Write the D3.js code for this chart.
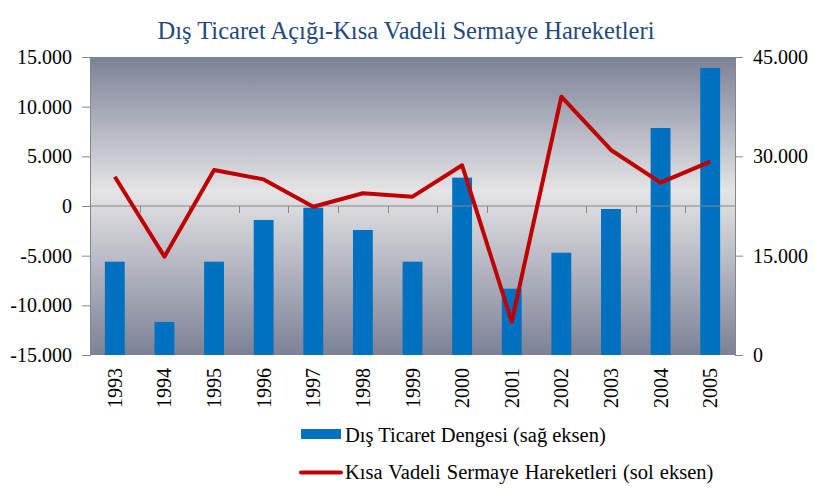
<!DOCTYPE html>
<html><head><meta charset="utf-8">
<script src="https://cdn.jsdelivr.net/npm/d3@7"></script>
<style>body{margin:0;background:#fff}svg{display:block}svg text{font-family:"Liberation Serif","Times New Roman",serif !important}</style>
</head><body><svg id="c" width="814" height="497"></svg>
<script>
const years = ["1993","1994","1995","1996","1997","1998","1999","2000","2001","2002","2003","2004","2005"];
const tradeBalance = [14090, 4980, 14090, 20390, 22240, 18880, 14090, 26780, 10010, 15450, 22050, 34280, 43340];
const shortTermCapital = [2950, -5100, 3620, 2680, -70, 1280, 940, 4100, -11650, 11000, 5640, 2350, 4460];
const leftTicks = [-15000, -10000, -5000, 0, 5000, 10000, 15000];
const rightTicks = [0, 15000, 30000, 45000];
const title = "Dış Ticaret Açığı-Kısa Vadeli Sermaye Hareketleri";
const legendBar = "Dış Ticaret Dengesi (sağ eksen)";
const legendLine = "Kısa Vadeli Sermaye Hareketleri (sol eksen)";

const FONT = '"Liberation Serif","Times New Roman",serif';
const svg = d3.select("#c");
const L = 90, R = 735, T = 57, B = 355;
const loc = d3.formatLocale({decimal: ",", thousands: ".", grouping: [3], currency: ["", ""], minus: "-"});
const fmt = loc.format(",.0f");

const x = d3.scaleBand().domain(years).range([L, R]);
const yL = d3.scaleLinear().domain([-15000, 15000]).range([B, T]);
const yR = d3.scaleLinear().domain([0, 45000]).range([B, T]);

const defs = svg.append("defs");
const g = defs.append("linearGradient").attr("id", "bg").attr("x1", 0).attr("y1", 0).attr("x2", 0).attr("y2", 1);
g.append("stop").attr("offset", "0%").attr("stop-color", "#7c8196");
g.append("stop").attr("offset", "45%").attr("stop-color", "#e4e4e6");
g.append("stop").attr("offset", "100%").attr("stop-color", "#7c8196");
svg.append("rect").attr("x", L).attr("y", T).attr("width", R - L).attr("height", B - T).attr("fill", "url(#bg)");

svg.append("text").attr("x", 406).attr("y", 39).attr("text-anchor", "middle")
  .attr("font-size", 24.5).attr("fill", "#1f497d").style("font-family", FONT).text(title);

// bars
const bw = x.bandwidth() * 0.4;
svg.append("g").selectAll("rect").data(years).join("rect")
  .attr("x", (d) => x(d) + x.bandwidth() / 2 - bw / 2)
  .attr("width", bw)
  .attr("y", (d, i) => yR(tradeBalance[i]))
  .attr("height", (d, i) => yR(0) - yR(tradeBalance[i]))
  .attr("fill", "#0070c0");

// zero line + category ticks
const axisColor = "#868686";
svg.append("line").attr("x1", L).attr("x2", R).attr("y1", yL(0)).attr("y2", yL(0)).attr("stroke", axisColor).attr("stroke-width", 1);
svg.append("g").selectAll("line").data(years.slice(1)).join("line")
  .attr("x1", (d) => Math.round(x(d)) + 0.5).attr("x2", (d) => Math.round(x(d)) + 0.5)
  .attr("y1", yL(0)).attr("y2", yL(0) + 7).attr("stroke", axisColor);

// left axis
const la = svg.append("g").attr("transform", `translate(${L},0)`)
  .call(d3.axisLeft(yL).tickValues(leftTicks).tickFormat(fmt).tickSize(8).tickPadding(10))
  .attr("font-family", null).attr("font-size", null);
la.select(".domain").attr("stroke", axisColor);
la.selectAll(".tick line").attr("stroke", axisColor);
la.selectAll("text").attr("font-size", 20).attr("fill", "#000").style("font-family", FONT);

const ra = svg.append("g").attr("transform", `translate(${R},0)`)
  .call(d3.axisRight(yR).tickValues(rightTicks).tickFormat(fmt).tickSize(8).tickPadding(10))
  .attr("font-family", null).attr("font-size", null);
ra.select(".domain").attr("stroke", axisColor);
ra.selectAll(".tick line").attr("stroke", axisColor);
ra.selectAll("text").attr("font-size", 20).attr("fill", "#000").style("font-family", FONT);

// bottom year labels
svg.append("g").selectAll("text").data(years).join("text")
  .attr("transform", (d) => `translate(${x(d) + x.bandwidth() / 2},368) rotate(-90)`)
  .attr("text-anchor", "end").attr("dy", "0.35em")
  .attr("font-size", 20).attr("fill", "#000").style("font-family", FONT).text((d) => d);

// line
const line = d3.line().x((d, i) => x(years[i]) + x.bandwidth() / 2).y((d) => yL(d));
svg.append("path").datum(shortTermCapital).attr("d", line)
  .attr("fill", "none").attr("stroke", "#c00000").attr("stroke-width", 4).attr("stroke-linejoin", "round");

// legend
svg.append("rect").attr("x", 301).attr("y", 429).attr("width", 40).attr("height", 10).attr("fill", "#0070c0");
svg.append("text").attr("x", 345).attr("y", 441.5).attr("font-size", 20.5).attr("fill", "#000").style("font-family", FONT).text(legendBar);
svg.append("line").attr("x1", 301).attr("x2", 341).attr("y1", 472.5).attr("y2", 472.5)
  .attr("stroke", "#c00000").attr("stroke-width", 4).attr("stroke-linecap", "round");
svg.append("text").attr("x", 345).attr("y", 478.5).attr("font-size", 20.5).attr("fill", "#000").attr("word-spacing", 1).style("font-family", FONT).text(legendLine);
</script></body></html>
